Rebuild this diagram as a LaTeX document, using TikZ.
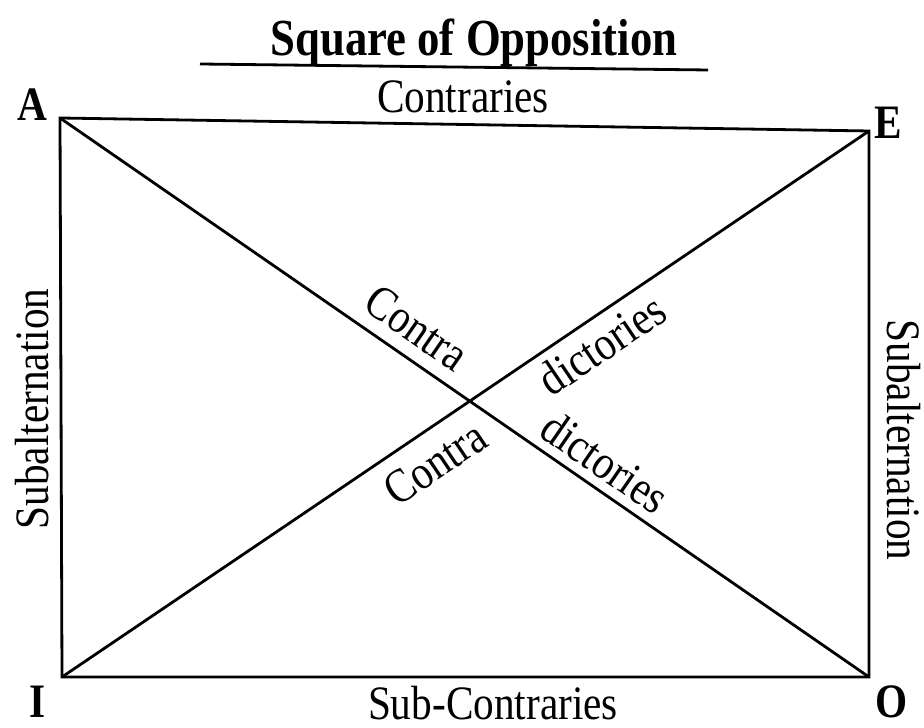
\documentclass[tikz,border=0pt]{standalone}
\usepackage{fontspec}
\setmainfont{Liberation Serif}[FakeStretch=0.86]
\tikzset{
  rel/.style={font=\fontsize{24}{28}\selectfont},
  corner/.style={font=\fontsize{24}{28}\selectfont\bfseries},
}
\begin{document}
\begin{tikzpicture}[x=0.5pt, y=0.5pt, line width=1.4pt, line join=miter]
    \useasboundingbox (0,0) rectangle (924,727);

    % Ecken des Quadrats
    \coordinate (a) at (60,609);
    \coordinate (e) at (869,596);
    \coordinate (i) at (62,50);
    \coordinate (o) at (869,50);

    % Titel mit Unterstreichung
    \node[anchor=base, font=\fontsize{26}{30}\selectfont\bfseries] (title) at (474,671) {Square of Opposition};
    \coordinate (ul) at (200,663);
    \coordinate (ur) at (708,657);
    \draw (ul) -- (ur);

    % Rahmen
    \draw (a) -- (e) -- (o) -- (i) -- cycle;

    % Diagonalen
    \draw (a) -- (o)
        node[rel, sloped, pos=0.42, above=3pt] (contraA) {Contra}
        node[rel, sloped, pos=0.655, above=1pt] (dictA) {dictories};
    \draw (i) -- (e)
        node[rel, sloped, pos=0.44, below=4pt] (contraI) {Contra}
        node[rel, sloped, pos=0.65, below=1pt] (dictI) {dictories};

    % Eckbuchstaben
    \node[corner] (la) at (32,622) {A};
    \node[corner] (le) at (888,604) {E};
    \node[corner] (li) at (38,25) {I};
    \node[corner] (lo) at (892,25) {O};

    % Beziehungen
    \node[rel, anchor=base] (top) at (463,614) {Contraries};
    \node[rel, anchor=base] (bottom) at (493,8) {Sub-Contraries};
    \node[rel, rotate=90] (left) at (32,318) {Subalternation};
    \node[rel, rotate=-90] (right) at (904,287) {Subalternation};
\end{tikzpicture}
\end{document}
